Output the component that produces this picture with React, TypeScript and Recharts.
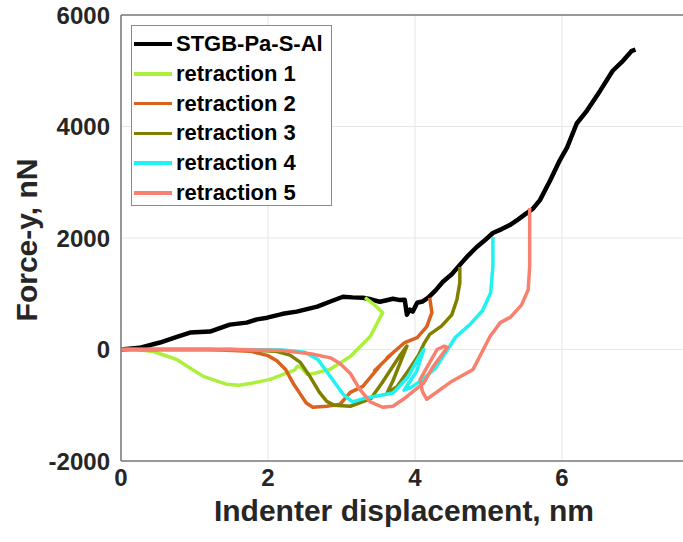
import { LineChart, Line, XAxis, YAxis, CartesianGrid, Legend, Label, ReferenceLine } from "recharts";

type Pt = { x: number; y: number };
const pts = (arr: number[][]): Pt[] => arr.map(([x, y]) => ({ x, y }));

const xTicks = [0, 2, 4, 6];
const yTicks = [-2000, 0, 2000, 4000, 6000];

const loading = pts([
  [0, 0], [0.25, 30], [0.53, 125], [0.75, 220], [0.94, 304], [1.21, 321], [1.48, 446], [1.71, 482],
  [1.85, 540], [1.99, 571], [2.2, 640], [2.39, 679], [2.67, 768], [2.84, 857], [3.02, 946], [3.15, 935],
  [3.29, 929], [3.4, 900], [3.52, 857], [3.6, 880], [3.7, 911], [3.78, 890], [3.86, 893], [3.89, 625],
  [3.93, 714], [3.97, 680], [4.03, 839], [4.1, 860], [4.18, 929], [4.28, 1060], [4.38, 1214], [4.5, 1350],
  [4.61, 1518], [4.72, 1680], [4.84, 1839], [4.95, 1960], [5.06, 2089], [5.18, 2160], [5.29, 2232],
  [5.4, 2330], [5.52, 2446], [5.6, 2520], [5.7, 2679], [5.84, 3036], [5.97, 3393], [6.07, 3625],
  [6.2, 4054], [6.34, 4286], [6.52, 4643], [6.69, 5000], [6.83, 5179], [6.95, 5357], [7.0, 5380],
]);

const retraction1 = pts([
  [3.32, 929], [3.45, 800], [3.56, 661], [3.39, 232], [3.12, -125], [2.84, -357], [2.62, -430],
  [2.53, -446], [2.45, -320], [2.4, -300], [2.36, -370], [2.2, -450], [2.03, -536], [1.76, -610],
  [1.6, -640], [1.44, -625], [1.12, -482], [0.9, -300], [0.76, -179], [0.44, -36], [0.2, 0], [0, 0],
]);

const retraction2 = pts([
  [4.2, 929], [4.23, 661], [4.16, 411], [4.03, 214], [3.86, 125], [3.62, -150], [3.7, -60],
  [3.45, -380], [3.52, -300], [3.29, -661], [3.12, -768], [2.98, -982], [2.8, -1018], [2.61, -1036],
  [2.52, -960], [2.44, -800], [2.34, -600], [2.24, -360], [2.12, -200], [2.0, -110], [1.76, -30],
  [1.2, 0], [0, 0],
]);

const retraction3 = pts([
  [4.61, 1482], [4.61, 1200], [4.57, 893], [4.5, 620], [4.36, 420], [4.2, 270], [4.12, 100],
  [4.05, -100], [3.95, -300], [3.76, -661], [3.62, -780], [3.7, -560], [3.89, 60], [3.8, -100],
  [3.55, -600], [3.4, -880], [3.12, -1018], [2.9, -1000], [2.8, -930], [2.7, -768], [2.57, -482],
  [2.44, -232], [2.3, -100], [2.1, -30], [1.5, 0], [0, 0],
]);

const retraction4 = pts([
  [5.06, 2018], [5.06, 1500], [5.03, 1018], [4.92, 700], [4.75, 450], [4.55, 220], [4.42, -50],
  [4.28, -330], [4.1, -540], [3.95, -680], [3.85, -730], [4.02, -400], [4.12, 0], [4.05, -150],
  [3.9, -500], [3.7, -780], [3.5, -830], [3.3, -880], [3.15, -940], [3.02, -800], [2.9, -580],
  [2.8, -400], [2.68, -180], [2.5, -50], [2.2, -10], [1.5, 0], [0, 0],
]);

const retraction5 = pts([
  [5.56, 2536], [5.56, 2000], [5.56, 1482], [5.54, 1071], [5.45, 800], [5.3, 580], [5.16, 482],
  [5.02, 232], [4.93, 0], [4.79, -357], [4.48, -589], [4.16, -893], [4.1, -750], [4.07, -536],
  [4.3, 0], [4.4, 60], [4.44, 40], [4.25, -300], [4.12, -600], [3.95, -780], [3.84, -893],
  [3.7, -1018], [3.56, -1036], [3.39, -940], [3.25, -714], [3.12, -430], [2.98, -250], [2.85, -150],
  [2.6, -80], [2.2, -20], [1.5, 0], [0, 0],
]);

const series = [
  { name: "STGB-Pa-S-Al", data: loading, color: "#000000", width: 4.5 },
  { name: "retraction 1", data: retraction1, color: "#adf03c", width: 3.5 },
  { name: "retraction 2", data: retraction2, color: "#d9621f", width: 3.5 },
  { name: "retraction 3", data: retraction3, color: "#808000", width: 3.5 },
  { name: "retraction 4", data: retraction4, color: "#1ef2f2", width: 3.5 },
  { name: "retraction 5", data: retraction5, color: "#f8806f", width: 3.5 },
];

const FONT = '"Liberation Sans", Arial, sans-serif';
const TEXT = "#262626";

const LegendBox = () => (
  <div
    style={{
      width: 199,
      height: 179,
      background: "#fff",
      border: "1px solid #8a8a8a",
      fontFamily: FONT,
      fontWeight: "bold",
      fontSize: 22,
      color: "#000",
      boxSizing: "content-box",
    }}
  >
    {series.map((s, i) => (
      <div key={s.name} style={{ position: "absolute", left: 3, top: 6 + i * 29.8, height: 26, display: "flex", alignItems: "center" }}>
        <div style={{ width: 38, height: 3.5, background: s.color, marginRight: 4 }} />
        <span style={{ whiteSpace: "nowrap" }}>{s.name}</span>
      </div>
    ))}
  </div>
);

export default function App() {
  return (
    <div style={{ position: "absolute", left: 0, top: 0, width: 683, height: 542, overflow: "hidden", background: "#fff" }}>
      <LineChart width={720} height={542} margin={{ top: 15, right: 11, left: 0, bottom: 41 }}>
        <CartesianGrid stroke="#e6e6e6" strokeWidth={1} />
        <XAxis
          type="number"
          dataKey="x"
          domain={[0, 8]}
          ticks={xTicks}
          allowDataOverflow
          tickLine={false}
          height={40}
          tickMargin={2}
          stroke="#7a7a7a"
          strokeWidth={1.5}
          tick={{ fill: TEXT, fontSize: 24, fontWeight: "bold", fontFamily: FONT }}
        >
          <Label
            content={() => (
              <text x={404} y={521} textAnchor="middle" fill={TEXT} fontSize={30} fontWeight="bold" fontFamily={FONT}>
                Indenter displacement, nm
              </text>
            )}
          />
        </XAxis>
        <YAxis
          type="number"
          dataKey="y"
          domain={[-2000, 6000]}
          ticks={yTicks}
          allowDataOverflow
          width={121}
          tickLine={false}
          tickMargin={5}
          stroke="#7a7a7a"
          strokeWidth={1.5}
          tick={{ fill: TEXT, fontSize: 24, fontWeight: "bold", fontFamily: FONT }}
        >
          <Label
            content={() => (
              <text
                x={26}
                y={240}
                transform="rotate(-90 26 240)"
                textAnchor="middle"
                dominantBaseline="central"
                fill={TEXT}
                fontSize={30}
                fontWeight="bold"
                fontFamily={FONT}
              >
                Force-y, nN
              </text>
            )}
          />
        </YAxis>
        <ReferenceLine y={6000} stroke="#7a7a7a" strokeWidth={1.5} />
        {series.map((s) => (
          <Line
            key={s.name}
            data={s.data}
            dataKey="y"
            name={s.name}
            type="linear"
            stroke={s.color}
            strokeWidth={s.width}
            dot={false}
            isAnimationActive={false}
            strokeLinejoin="round"
          />
        ))}
        <Legend
          layout="horizontal"
          verticalAlign="middle"
          align="center"
          wrapperStyle={{ top: 25, left: 131, width: 201, height: 181 }}
          content={() => <LegendBox />}
        />
      </LineChart>
    </div>
  );
}
